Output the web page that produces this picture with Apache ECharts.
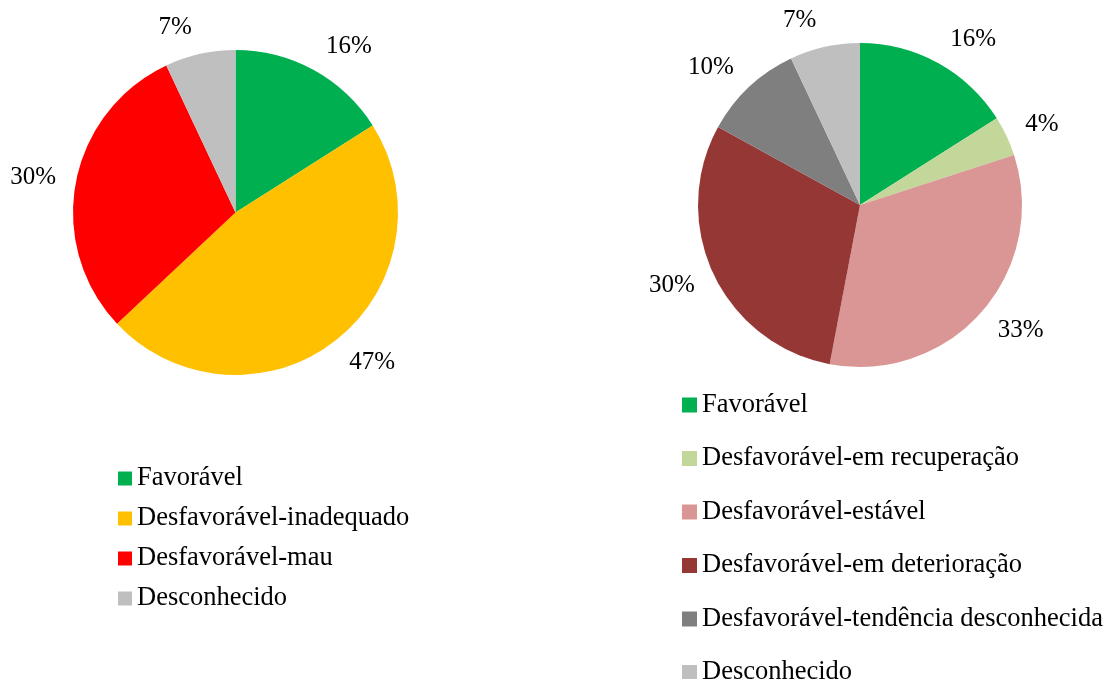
<!DOCTYPE html>
<html>
<head>
<meta charset="utf-8">
<script src="https://cdn.jsdelivr.net/npm/echarts@6/dist/echarts.min.js"></script>
<style>
  html, body { margin: 0; padding: 0; background: #fff; }
  #chart { width: 1109px; height: 679px; }
</style>
</head>
<body>
<div id="chart"></div>
<script>
var leftNames = ['Favorável', 'Desfavorável-inadequado', 'Desfavorável-mau', 'Desconhecido'];
var leftValues = [16, 47, 30, 7];
var leftColors = ['#00B050', '#FFC000', '#FF0000', '#BFBFBF'];

var rightNames = ['Favorável', 'Desfavorável-em recuperação', 'Desfavorável-estável',
    'Desfavorável-em deterioração', 'Desfavorável-tendência desconhecida', 'Desconhecido'];
var rightValues = [16, 4, 33, 30, 10, 7];
var rightColors = ['#00B050', '#C4D79B', '#D99694', '#953735', '#7F7F7F', '#BFBFBF'];

var font = '"Liberation Serif", "Times New Roman", serif';
var centers = [[235.5, 212.5], [860, 205]];

function toData(names, values, colors) {
    return names.map(function (n, i) {
        return { name: n, value: values[i], itemStyle: { color: colors[i] } };
    });
}

// push labels a bit further away from the pie vertically, like Excel's "outside end"
function nudgeLabel(p) {
    var pts = p.labelLinePoints;
    var vx, vy;
    if (pts && pts.length > 1) {
        vx = pts[1][0] - pts[0][0];
        vy = pts[1][1] - pts[0][1];
    } else {
        var c = centers[p.seriesIndex];
        vx = p.labelRect.x + p.labelRect.width / 2 - c[0];
        vy = p.labelRect.y + p.labelRect.height / 2 - c[1];
    }
    var len = Math.sqrt(vx * vx + vy * vy) || 1;
    return { dy: vy / len * 12 };
}

function pieSeries(center, radius, data) {
    return {
        type: 'pie',
        center: center,
        radius: radius,
        startAngle: 90,
        clockwise: true,
        avoidLabelOverlap: false,
        animation: false,
        silent: true,
        data: data,
        itemStyle: { borderWidth: 0 },
        label: {
            show: true,
            position: 'outside',
            formatter: '{c}%',
            fontFamily: font,
            fontSize: 25,
            color: '#000',
            distanceToLabelLine: 5
        },
        labelLine: { show: false, length: 15, length2: 0 },
        labelLayout: nudgeLabel,
        emphasis: { disabled: true }
    };
}

var legendText = { fontFamily: font, fontSize: 26.5, color: '#000', lineHeight: 26 };

var chart = echarts.init(document.getElementById('chart'));
chart.setOption({
    backgroundColor: '#fff',
    legend: [{
        data: leftNames,
        orient: 'vertical',
        left: 118,
        top: 465,
        height: 200,
        padding: 0,
        icon: 'rect',
        itemWidth: 14,
        itemHeight: 14,
        itemGap: 13,
        selectedMode: false,
        textStyle: legendText
    }, {
        data: rightNames,
        orient: 'vertical',
        left: 682,
        top: 391.5,
        height: 300,
        padding: 0,
        icon: 'rect',
        itemWidth: 15,
        itemHeight: 15,
        itemGap: 26.5,
        selectedMode: false,
        textStyle: legendText
    }],
    series: [
        pieSeries(centers[0], 162.5, toData(leftNames, leftValues, leftColors)),
        pieSeries(centers[1], 162, toData(rightNames, rightValues, rightColors))
    ]
});
</script>
</body>
</html>
